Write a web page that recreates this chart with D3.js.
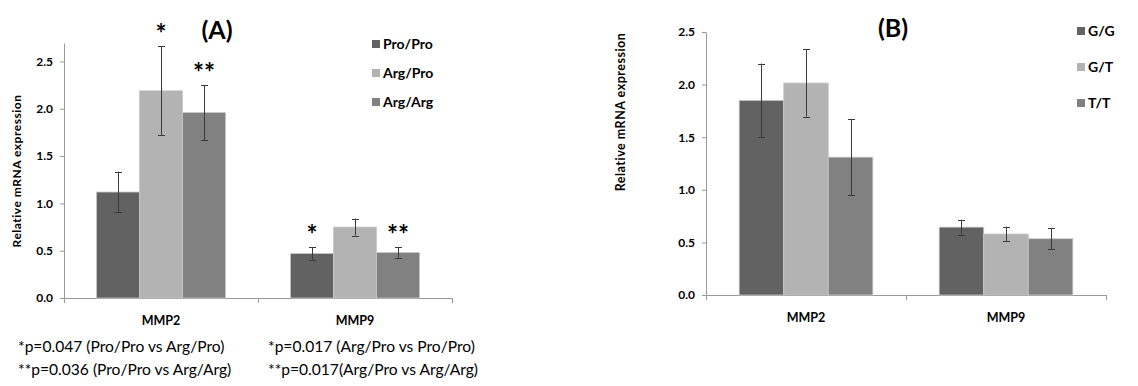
<!DOCTYPE html>
<html>
<head>
<meta charset="utf-8">
<script src="https://cdn.jsdelivr.net/npm/d3@7"></script>
<style>
  body { margin: 0; background: #fff; }
  svg text { font-family: Lato, "Open Sans", sans-serif; fill: #000; }
</style>
</head>
<body>
<script>
// data
const genes = ["MMP2", "MMP9"];

const groupsA = ["Pro/Pro", "Arg/Pro", "Arg/Arg"];
const meanA = { "Pro/Pro": [1.12, 0.47], "Arg/Pro": [2.19, 0.75], "Arg/Arg": [1.96, 0.48] };
const errA = { "Pro/Pro": [0.215, 0.065], "Arg/Pro": [0.47, 0.09], "Arg/Arg": [0.29, 0.055] };

const groupsB = ["G/G", "G/T", "T/T"];
const meanB = { "G/G": [1.85, 0.645], "G/T": [2.015, 0.58], "T/T": [1.31, 0.535] };
const errB = { "G/G": [0.35, 0.07], "G/T": [0.32, 0.07], "T/T": [0.36, 0.1] };

const yTicks = [0, 0.5, 1.0, 1.5, 2.0, 2.5];

// stars for panel A: [gene, group, label]
const starsA = [["MMP2", "Arg/Pro", "*"], ["MMP2", "Arg/Arg", "**"],
                ["MMP9", "Pro/Pro", "*"], ["MMP9", "Arg/Arg", "**"]];

const notesLeft = ["*p=0.047 (Pro/Pro vs Arg/Pro)", "**p=0.036 (Pro/Pro vs Arg/Arg)"];
const notesRight = ["*p=0.017 (Arg/Pro vs Pro/Pro)", "**p=0.017(Arg/Pro vs Arg/Arg)"];

const colors = ["#626262", "#b3b3b3", "#818181"];

const svg = d3.select("body").append("svg")
    .attr("width", 1138)
    .attr("height", 386);

function panel(cfg) {
    const g = svg.append("g");
    const x = d3.scaleBand().domain(genes).range([cfg.x0, cfg.x1]);
    const inner = d3.scaleBand().domain(cfg.groups)
        .range([0, x.bandwidth()]).paddingInner(0).paddingOuter(cfg.gap);
    const y = d3.scaleLinear().domain([0, cfg.ymax]).range([cfg.y0, cfg.y1]);
    const color = d3.scaleOrdinal().domain(cfg.groups).range(colors);

    // y axis
    const ya = g.append("g").attr("transform", `translate(${cfg.x0},0)`)
        .call(d3.axisLeft(y).tickValues(yTicks).tickFormat(d3.format(".1f"))
            .tickSize(4).tickSizeOuter(0).tickPadding(7));
    ya.select(".domain").attr("stroke", "#999");
    ya.selectAll(".tick line").attr("stroke", "#999");
    ya.selectAll(".tick text").attr("font-size", 12).attr("font-weight", "bold").attr("fill", "#222")
        .attr("font-family", "Lato, sans-serif");

    // x axis
    g.append("line").attr("x1", cfg.x0).attr("x2", cfg.x1)
        .attr("y1", cfg.y0 + 0.5).attr("y2", cfg.y0 + 0.5).attr("stroke", "#999");
    g.selectAll(".xt").data([cfg.x0, cfg.x0 + x.step(), cfg.x1]).enter().append("line")
        .attr("x1", d => d + 0.5).attr("x2", d => d + 0.5)
        .attr("y1", cfg.y0).attr("y2", cfg.y0 + 5).attr("stroke", "#999");
    g.selectAll(".xl").data(genes).enter().append("text")
        .attr("x", d => x(d) + x.bandwidth() / 2)
        .attr("y", cfg.y0 + 27)
        .attr("text-anchor", "middle")
        .attr("font-size", 12.5).attr("font-weight", "bold")
        .text(d => d);

    // bars
    const rows = [];
    cfg.groups.forEach(grp => genes.forEach((gene, i) => {
        rows.push({ gene, grp, v: cfg.mean[grp][i], e: cfg.err[grp][i] });
    }));
    g.selectAll(".bar").data(rows).enter().append("rect")
        .attr("x", d => x(d.gene) + inner(d.grp))
        .attr("y", d => y(d.v))
        .attr("width", inner.bandwidth())
        .attr("height", d => cfg.y0 - y(d.v))
        .attr("fill", d => color(d.grp))
        .attr("stroke", "#c8c8c8")
        .attr("stroke-width", 0.8);

    // error bars
    const eb = g.selectAll(".err").data(rows).enter().append("g")
        .attr("stroke", "#3a3a3a").attr("stroke-width", 1);
    const cx = d => Math.round(x(d.gene) + inner(d.grp) + inner.bandwidth() / 2) + 0.5;
    eb.append("line").attr("x1", cx).attr("x2", cx)
        .attr("y1", d => y(d.v + d.e)).attr("y2", d => y(d.v - d.e));
    eb.append("line").attr("x1", d => cx(d) - 3.5).attr("x2", d => cx(d) + 3.5)
        .attr("y1", d => Math.round(y(d.v + d.e)) + 0.5).attr("y2", d => Math.round(y(d.v + d.e)) + 0.5);
    eb.append("line").attr("x1", d => cx(d) - 3.5).attr("x2", d => cx(d) + 3.5)
        .attr("y1", d => Math.round(y(d.v - d.e)) + 0.5).attr("y2", d => Math.round(y(d.v - d.e)) + 0.5);

    // title
    g.append("text").attr("x", cfg.titleX).attr("y", cfg.titleY)
        .attr("text-anchor", "middle").attr("font-size", 25).attr("font-weight", "bold")
        .text(cfg.title);

    // y label
    g.append("text")
        .attr("transform", `translate(${cfg.labX},${cfg.labY}) rotate(-90)`)
        .attr("text-anchor", "middle").attr("font-size", cfg.labSize).attr("font-weight", "bold")
        .attr("letter-spacing", 0.5)
        .attr("fill", "#222")
        .text("Relative mRNA expression");

    // legend
    const lg = g.selectAll(".lg").data(cfg.groups).enter().append("g")
        .attr("transform", (d, i) => `translate(${cfg.legX},${cfg.legY + i * cfg.legStep})`);
    lg.append("rect").attr("x", 0).attr("y", -4).attr("width", 8).attr("height", 8)
        .attr("fill", d => color(d));
    lg.append("text").attr("x", 11).attr("y", 5)
        .attr("font-size", 14).attr("font-weight", "bold").text(d => d);

    return { g, x, inner, y };
}

const A = panel({
    x0: 64, x1: 452, y0: 298, y1: 43, ymax: 2.695, gap: 0.755,
    groups: groupsA, mean: meanA, err: errA,
    title: "(A)", titleX: 217, titleY: 39,
    labX: 21, labY: 171, labSize: 12,
    legX: 372, legY: 44, legStep: 29
});

const B = panel({
    x0: 706, x1: 1106, y0: 295, y1: 32, ymax: 2.5, gap: 0.745,
    groups: groupsB, mean: meanB, err: errB,
    title: "(B)", titleX: 893, titleY: 37,
    labX: 625, labY: 112, labSize: 12.5,
    legX: 1077, legY: 31, legStep: 36
});

// significance stars
A.g.selectAll(".star").data(starsA).enter().append("text")
    .attr("x", d => A.x(d[0]) + A.inner(d[1]) + A.inner.bandwidth() / 2)
    .attr("y", d => {
        const i = genes.indexOf(d[0]);
        return A.y(meanA[d[1]][i] + errA[d[1]][i]) - 3;
    })
    .attr("text-anchor", "middle")
    .attr("font-family", "DejaVu Sans, sans-serif")
    .attr("font-size", 26).attr("font-weight", "bold")
    .text(d => d[2]);

// p-value notes
svg.selectAll(".nl").data(notesLeft).enter().append("text")
    .attr("x", 18).attr("y", (d, i) => 352 + i * 23)
    .attr("font-size", 15.6).text(d => d);
svg.selectAll(".nr").data(notesRight).enter().append("text")
    .attr("x", 268).attr("y", (d, i) => 352 + i * 23)
    .attr("font-size", 15.6).text(d => d);
</script>
</body>
</html>
